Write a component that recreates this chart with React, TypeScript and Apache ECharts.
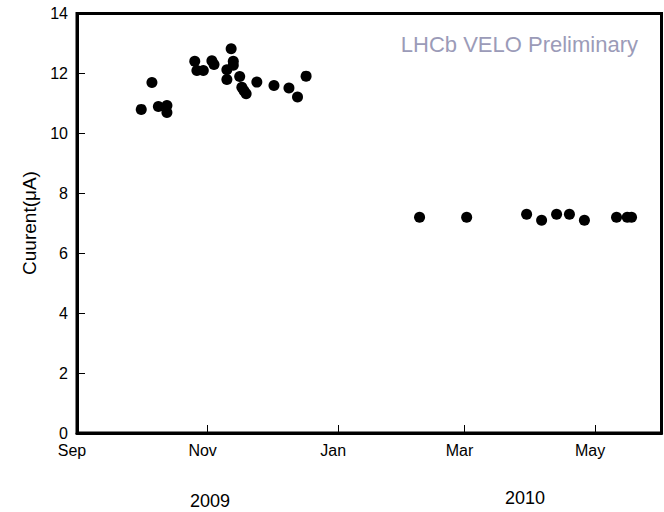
import React, { useEffect, useRef } from "react";
import * as echarts from "echarts";

// Dates (year, month 1-12, day) and measured current in µA
const dates2009: [number, number, number][] = [
  [2009, 10, 1], [2009, 10, 6], [2009, 10, 9], [2009, 10, 13], [2009, 10, 13],
  [2009, 10, 26], [2009, 10, 27], [2009, 10, 30], [2009, 11, 3], [2009, 11, 4],
  [2009, 11, 10], [2009, 11, 10], [2009, 11, 12], [2009, 11, 13], [2009, 11, 13],
  [2009, 11, 16], [2009, 11, 17], [2009, 11, 19], [2009, 11, 18], [2009, 11, 24],
  [2009, 12, 2], [2009, 12, 9], [2009, 12, 13], [2009, 12, 17],
];
const current2009: number[] = [
  10.8, 11.7, 10.9, 10.93, 10.7,
  12.41, 12.1, 12.1, 12.42, 12.3,
  12.12, 11.8, 12.82, 12.41, 12.27,
  11.9, 11.54, 11.32, 11.42, 11.71,
  11.6, 11.51, 11.21, 11.91,
];
const dates2010: [number, number, number][] = [
  [2010, 2, 8], [2010, 3, 2], [2010, 3, 30], [2010, 4, 6], [2010, 4, 13],
  [2010, 4, 19], [2010, 4, 26], [2010, 5, 11], [2010, 5, 16], [2010, 5, 18],
];
const current2010: number[] = [7.2, 7.2, 7.3, 7.1, 7.3, 7.3, 7.1, 7.2, 7.2, 7.2];

const tickMonths: [number, number][] = [
  [2009, 9], [2009, 11], [2010, 1], [2010, 3], [2010, 5],
];
const monthNames = ["Jan", "Feb", "Mar", "Apr", "May", "Jun", "Jul", "Aug", "Sep", "Oct", "Nov", "Dec"];
const yearLabels = ["2009", "2010"];
const yTicks = [0, 2, 4, 6, 8, 10, 12, 14];

const ts = (y: number, m: number, d: number) => Date.UTC(y, m - 1, d);

export default function App() {
  const ref = useRef<HTMLDivElement>(null);
  useEffect(() => {
    document.body.style.margin = "0";
    if (!ref.current) return;
    const chart = echarts.init(ref.current, undefined, { renderer: "svg" });
    const pts = [
      ...dates2009.map((d, i) => [ts(d[0], d[1], d[2]), current2009[i]]),
      ...dates2010.map((d, i) => [ts(d[0], d[1], d[2]), current2010[i]]),
    ];
    const tickVals = tickMonths.map(([y, m]) => ts(y, m, 1));
    const font = "'Liberation Sans', Arial, sans-serif";
    chart.setOption({
      animation: false,
      backgroundColor: "#ffffff",
      grid: {
        left: 77,
        right: 2.5,
        top: 13.5,
        bottom: 79,
        show: true,
        borderColor: "#000",
        borderWidth: 3,
      },
      xAxis: {
        type: "value",
        min: ts(2009, 9, 1),
        max: ts(2010, 6, 1),
        splitLine: { show: false },
        axisLine: { show: true, lineStyle: { color: "#000", width: 3 } },
        axisTick: {
          show: true,
          inside: true,
          length: 8,
          lineStyle: { color: "#000", width: 1 },
          customValues: tickVals,
        },
        axisLabel: {
          customValues: tickVals,
          formatter: (v: number) => monthNames[new Date(v).getUTCMonth()],
          color: "#000",
          fontFamily: font,
          fontSize: 16,
          margin: 9,
          padding: [0, 10, 0, 0],
          hideOverlap: false,
          showMinLabel: true,
          showMaxLabel: true,
        },
      },
      yAxis: {
        type: "value",
        min: 0,
        max: 14,
        interval: 2,
        splitLine: { show: false },
        axisLine: { show: true, lineStyle: { color: "#000", width: 3 } },
        axisTick: { show: true, inside: true, length: 8, lineStyle: { color: "#000", width: 1 } },
        axisLabel: {
          color: "#000",
          fontFamily: font,
          fontSize: 16,
          margin: 9,
          formatter: (v: number) => (yTicks.includes(v) ? String(v) : ""),
        },
      },
      series: [
        {
          type: "scatter",
          data: pts,
          symbol: "circle",
          symbolSize: 11,
          itemStyle: { color: "#000", opacity: 1 },
        },
      ],
      graphic: [
        {
          type: "text",
          x: 29,
          y: 223,
          rotation: Math.PI / 2,
          style: {
            text: "Cuurent(\u03bcA)",
            fill: "#000",
            font: `19px ${font}`,
            align: "center",
            verticalAlign: "middle",
          },
        },
        {
          type: "text",
          right: 26,
          top: 33,
          style: {
            text: "LHCb VELO Preliminary",
            fill: "#9b9bb8",
            font: `22px ${font}`,
          },
        },
        {
          type: "text",
          x: 210,
          y: 501,
          style: { text: yearLabels[0], fill: "#000", font: `18px ${font}`, align: "center", verticalAlign: "middle" },
        },
        {
          type: "text",
          x: 525,
          y: 498,
          style: { text: yearLabels[1], fill: "#000", font: `18px ${font}`, align: "center", verticalAlign: "middle" },
        },
      ],
    });
    return () => chart.dispose();
  }, []);
  return <div ref={ref} style={{ width: 664, height: 512 }} />;
}
